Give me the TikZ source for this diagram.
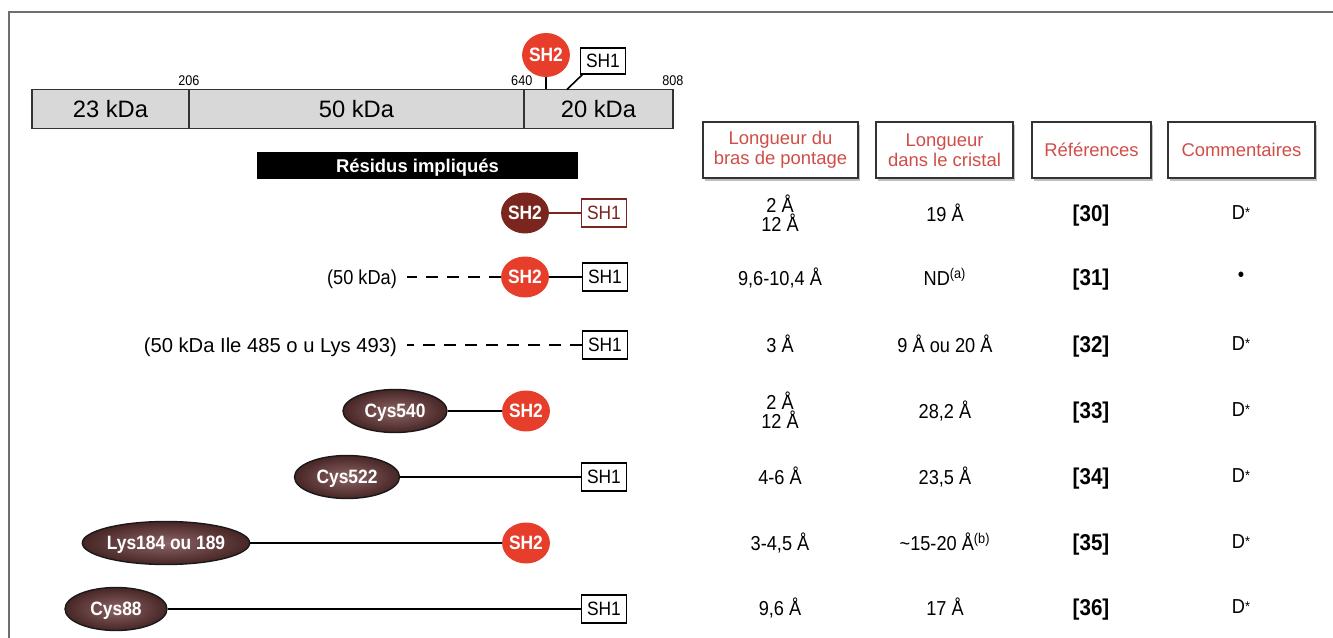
\documentclass[tikz,border=0pt]{standalone}
\usepackage{fontspec}
\setmainfont{Liberation Sans}
\newfontfamily\narrow[FakeStretch=0.9]{Liberation Sans}
\usetikzlibrary{positioning,shapes.geometric,shadows}

\definecolor{shred}{RGB}{230,62,42}
\definecolor{shdark}{RGB}{122,38,30}
\definecolor{headred}{RGB}{208,78,72}
\definecolor{bargray}{RGB}{216,216,216}
\definecolor{ellin}{RGB}{140,100,100}
\definecolor{ellout}{RGB}{72,38,38}
\definecolor{framegray}{RGB}{110,110,110}

\newcommand\dstar{D{\fontsize{8}{8}\selectfont\raisebox{1.5pt}{*}}}

\tikzset{
  seg/.style={draw=black!80, fill=bargray, line width=0.9pt, minimum height=0.78cm, inner sep=0pt, outer sep=0pt, text depth=0pt, font=\fontsize{13.5}{14}\selectfont},
  num/.style={font=\narrow\fontsize{8}{8}\selectfont, inner sep=1pt},
  shtwo/.style={ellipse, fill=shred, text=white, minimum width=0.92cm, minimum height=0.82cm, inner sep=0pt, text depth=0pt, font=\narrow\bfseries\fontsize{11}{11}\selectfont},
  shone/.style={draw, fill=white, line width=0.8pt, minimum width=0.9cm, minimum height=0.56cm, inner sep=0pt, text depth=0pt, font=\narrow\fontsize{11}{11}\selectfont},
  residue/.style={ellipse, draw=black!90, line width=0.8pt, shading=radial, inner color=ellin, outer color=ellout, text=white, minimum height=0.86cm, inner sep=0pt, text depth=0pt, font=\narrow\bfseries\fontsize{11}{11}\selectfont},
  head/.style={draw=black!80, line width=0.9pt, fill=white, drop shadow={shadow xshift=1.3pt, shadow yshift=-1.5pt, fill=black!50}, minimum height=1.12cm, align=center, text=headred, font=\fontsize{10.5}{11.5}\selectfont, inner sep=0pt},
  val/.style={font=\narrow\fontsize{11.5}{9}\selectfont, align=center, inner sep=1pt, text depth=0pt},
  ref/.style={font=\narrow\bfseries\fontsize{13}{13}\selectfont, inner sep=1pt, text depth=0pt},
  link/.style={line width=0.9pt},
  gap/.style={line width=0.9pt, dash pattern=on 0.24cm off 0.18cm},
}

\begin{document}
\begin{tikzpicture}[x=0.02cm, y=-0.02cm]
\useasboundingbox (0,0) rectangle (1333,638);
\draw[framegray, line width=1pt] (9,638) -- (9,12) -- (1333,12);

% chain
\node[seg, minimum width=3.14cm] (s23) at (110.5,109) {23 kDa};
\node[seg, minimum width=6.7cm, right=0pt of s23] (s50) {50 kDa};
\node[seg, minimum width=2.98cm, right=0pt of s50] (s20) {20 kDa};
\node[num, above=1pt of s23.north east] (n206) {206};
\node[num, above left=1pt and -6pt of s50.north east] (n640) {640};
\node[num, above=1pt of s20.north east] (n808) {808};

\node[shtwo, minimum width=0.94cm, minimum height=0.88cm] (top2) at (546,55) {SH2};
\node[shone, minimum height=0.52cm] (top1) at (603,61) {SH1};
\coordinate (foot) at ([xshift=-0.63cm]s20.north);
\draw[link] (top2.south) -- (top2.south |- s20.north);
\draw[link] ([xshift=0.05cm]top1.south west) -- (foot);

\node[fill=black, text=white, minimum width=6.42cm, minimum height=0.54cm, inner sep=0pt, text depth=0pt, font=\bfseries\fontsize{10.5}{10.5}\selectfont] (res) at (417.5,165.5) {Résidus impliqués};

% headers
\node[head, minimum width=3.1cm] (hbras) at (780.5,150) {Longueur du\\bras de pontage};
\node[head, minimum width=2.74cm] (hcrist) at (944.5,150) {Longueur\\dans le cristal};
\node[head, minimum width=2.38cm] (href) at (1091.5,150) {Références};
\node[head, minimum width=2.94cm] (hcom) at (1241.5,150) {Commentaires};

% residues
\node[shtwo, fill=shdark] (a2) at (525,213) {SH2};
\node[shone, draw=shdark, text=shdark] (a1) at (604,213) {SH1};
\draw[link, shdark] (a2) -- (a1);

\node[val, anchor=east] (b0) at (399,277) {(50 kDa)};
\node[shtwo] (b2) at (525,277) {SH2};
\node[shone] (b1) at (605,277) {SH1};
\draw[gap] (b2.west) -- ([xshift=0.16cm]b0.east);
\draw[link] (b2) -- (b1);

\node[val, anchor=east, font=\fontsize{11.5}{11.5}\selectfont] (c0) at (399,345) {(50 kDa Ile 485 o u Lys 493)};
\node[shone] (c1) at (605,345) {SH1};
\draw[gap] (c1.west) -- ([xshift=0.16cm]c0.east);

\node[residue, minimum width=2.08cm] (d0) at (395,411) {Cys540};
\node[shtwo] (d2) at (526,411) {SH2};
\draw[link] (d0) -- (d2);

\node[residue, minimum width=2.1cm] (e0) at (347,477) {Cys522};
\node[shone] (e1) at (604,477) {SH1};
\draw[link] (e0) -- (e1);

\node[residue, minimum width=2.9cm] (f0) at (166,543) {Lys184 ou 189};
\node[shtwo] (f2) at (526,543) {SH2};
\draw[link] (f0) -- (f2);

\node[residue, minimum width=2.04cm] (g0) at (116,609) {Cys88};
\node[shone] (g1) at (604,609) {SH1};
\draw[link] (g0) -- (g1);

% table
\node[val] (v1) at (780,213) {2 Å\\12 Å};
\node[val] (w1) at (945,213) {19 Å};
\node[ref] (r1) at (1091,213) {[30]};
\node[val] (k1) at (1241,213) {\dstar};

\node[val] (v2) at (780,277) {9,6-10,4 Å};
\node[val] (w2) at (945,277) {ND\textsuperscript{(a)}};
\node[ref] (r2) at (1091,277) {[31]};
\node[val] (k2) at (1241,277) {•};

\node[val] (v3) at (780,344) {3 Å};
\node[val] (w3) at (945,344) {9 Å ou 20 Å};
\node[ref] (r3) at (1091,344) {[32]};
\node[val] (k3) at (1241,344) {\dstar};

\node[val] (v4) at (780,410) {2 Å\\12 Å};
\node[val] (w4) at (945,410) {28,2 Å};
\node[ref] (r4) at (1091,410) {[33]};
\node[val] (k4) at (1241,410) {\dstar};

\node[val] (v5) at (780,476) {4-6 Å};
\node[val] (w5) at (945,476) {23,5 Å};
\node[ref] (r5) at (1091,476) {[34]};
\node[val] (k5) at (1241,476) {\dstar};

\node[val] (v6) at (780,542) {3-4,5 Å};
\node[val] (w6) at (945,542) {\textasciitilde15-20 Å\textsuperscript{(b)}};
\node[ref] (r6) at (1091,542) {[35]};
\node[val] (k6) at (1241,542) {\dstar};

\node[val] (v7) at (780,607) {9,6 Å};
\node[val] (w7) at (945,607) {17 Å};
\node[ref] (r7) at (1091,607) {[36]};
\node[val] (k7) at (1241,607) {\dstar};
\end{tikzpicture}
\end{document}
